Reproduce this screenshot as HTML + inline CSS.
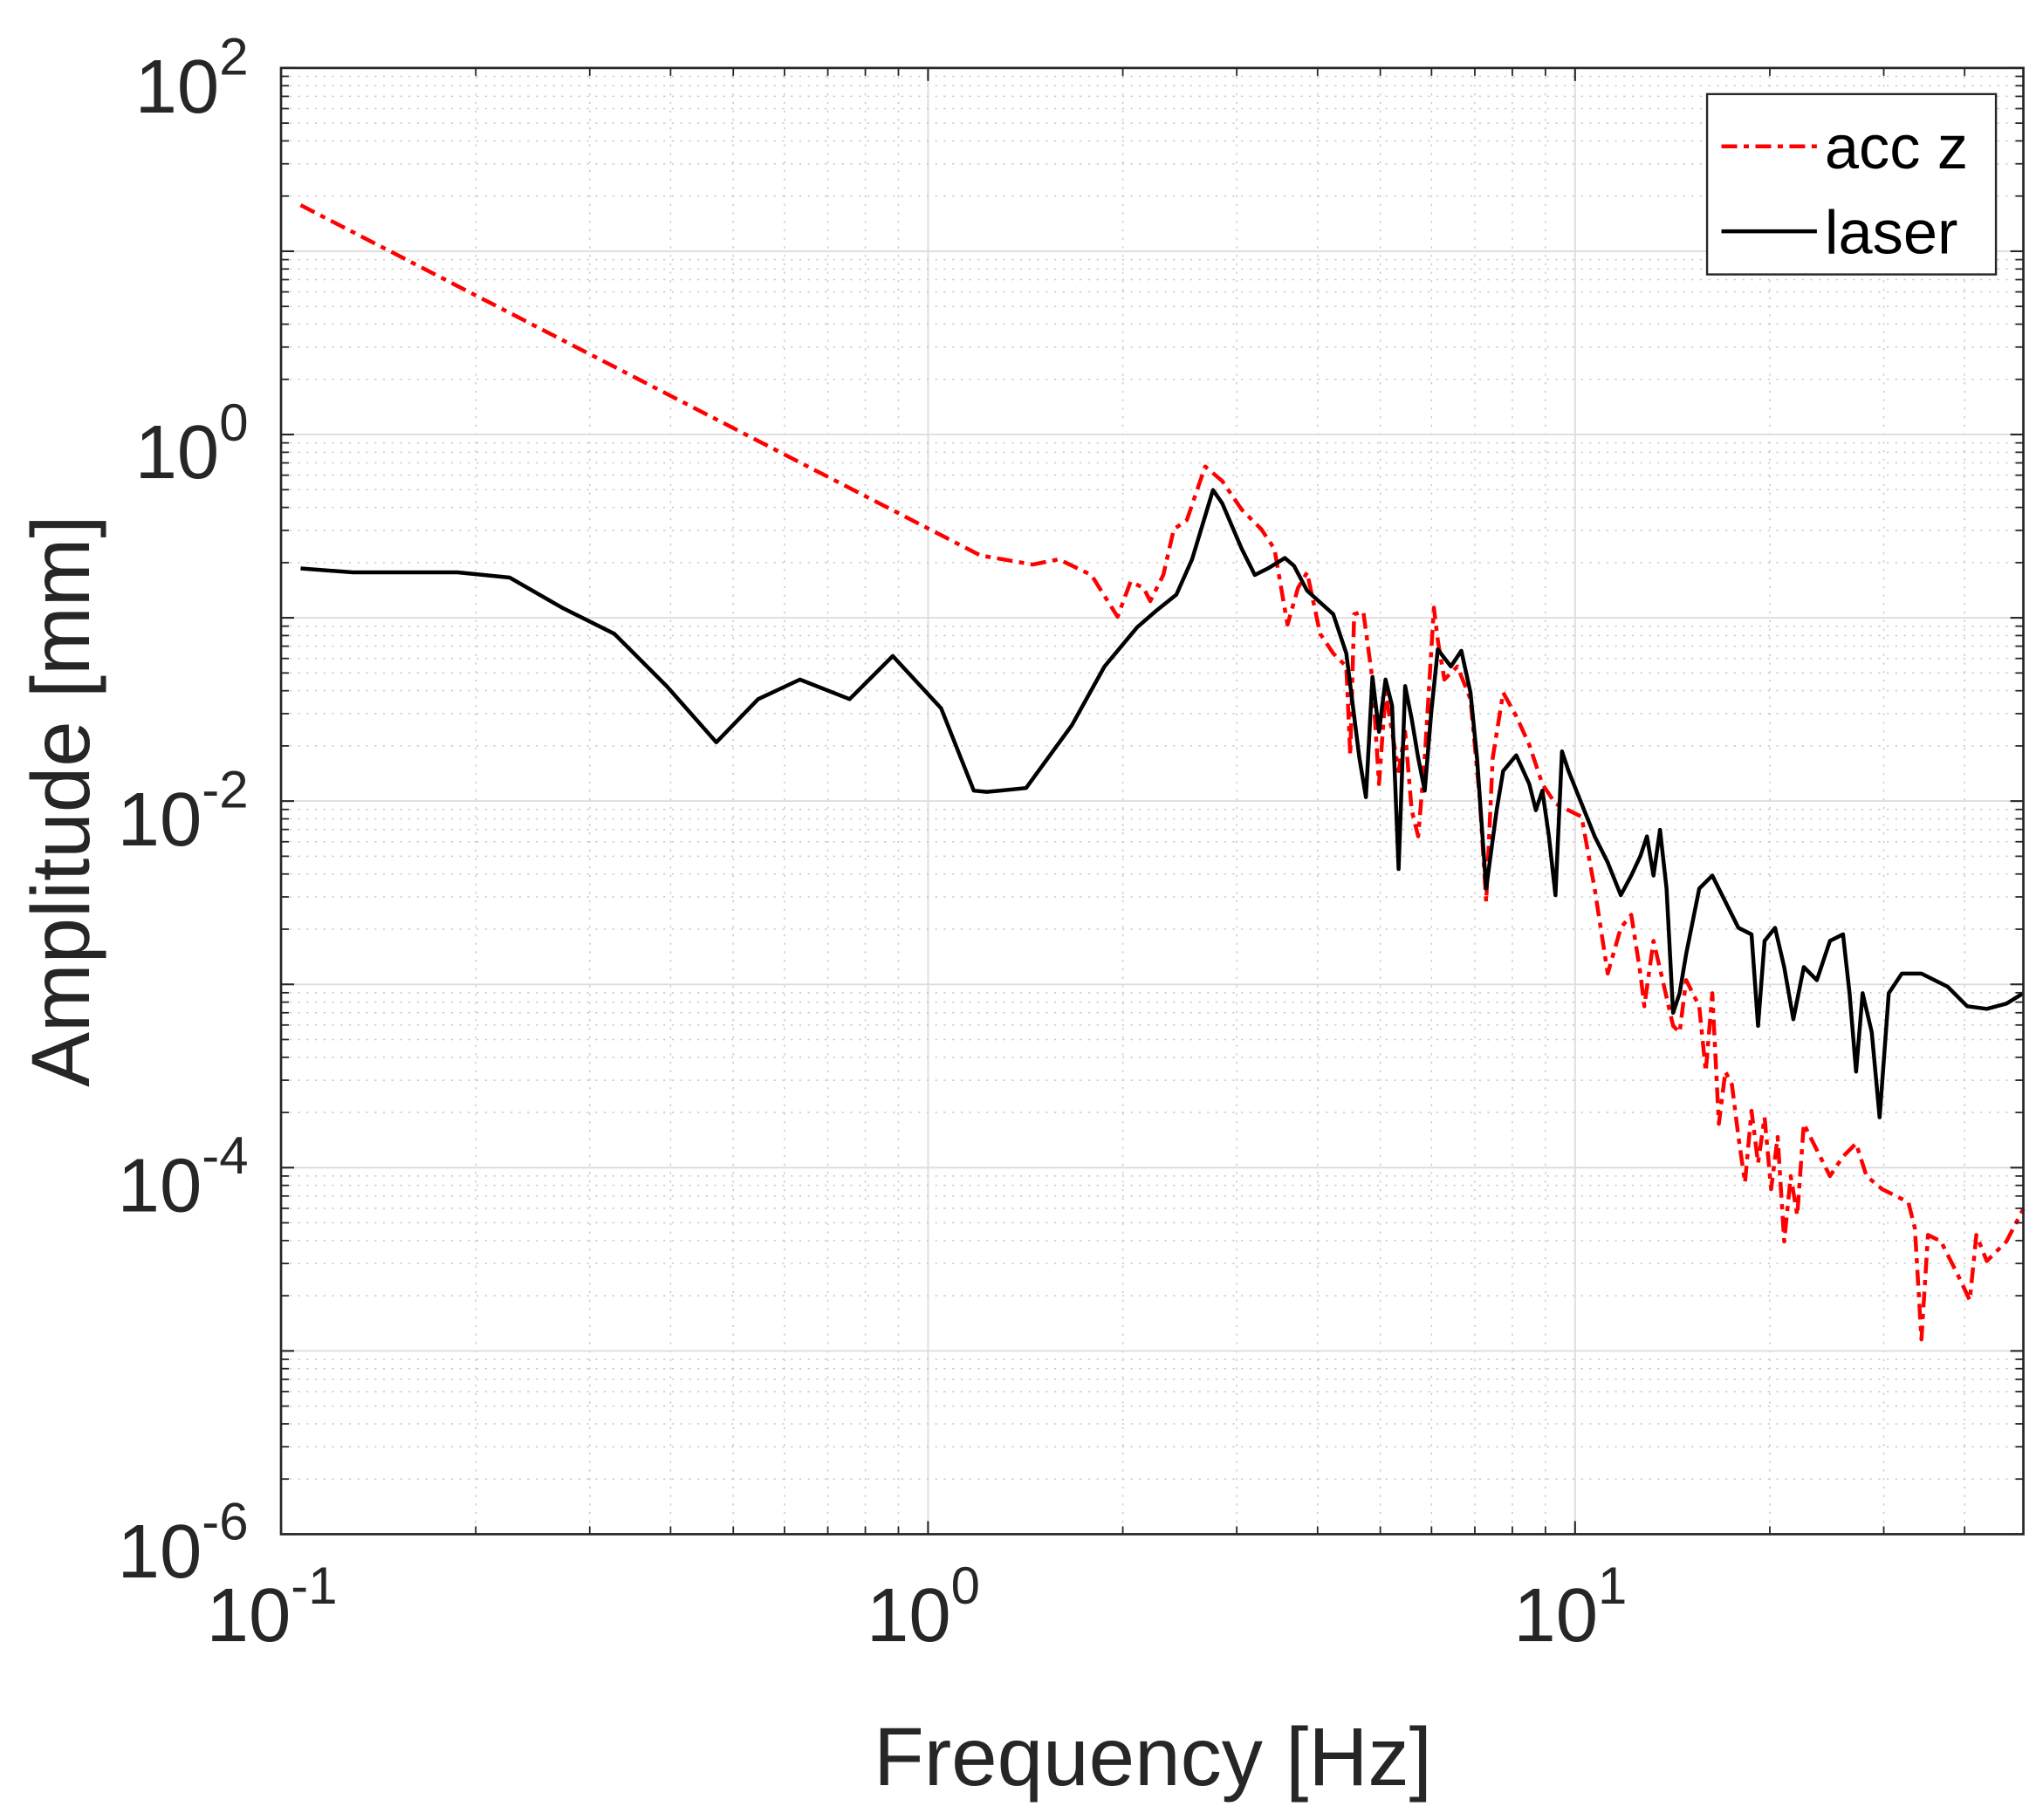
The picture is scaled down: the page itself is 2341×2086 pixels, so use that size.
<!DOCTYPE html>
<html><head><meta charset="utf-8"><style>
html,body{margin:0;padding:0;background:#fff;}
svg{display:block;}
text{font-family:"Liberation Sans",Arial,sans-serif;fill:#262626;}
</style></head><body>
<svg id="s" width="2341" height="2086" viewBox="0 0 1563 1392.7" preserveAspectRatio="none" xmlns="http://www.w3.org/2000/svg">
<rect x="0" y="0" width="1563" height="1393" fill="#fff"/>
<g id="grid"></g>
<polyline fill="none" stroke="#ff0000" stroke-width="3" stroke-dasharray="12,5,4,5" stroke-linejoin="round" points="230,157 750,425 790,432 810,428 835,440 855,472 865,445 875,450 880,460 890,440 898,405 908,398 922,357 935,368 950,390 965,405 975,420 985,478 993,450 1000,438 1010,485 1020,500 1030,510 1033,578 1036,470 1043,468 1050,520 1055,600 1060,530 1065,560 1070,590 1075,560 1080,620 1085,640 1090,580 1097,465 1100,490 1105,520 1115,510 1125,535 1132,610 1137,690 1142,580 1150,530 1160,548 1170,570 1180,600 1190,615 1200,620 1210,625 1220,680 1230,745 1240,710 1248,700 1255,745 1258,770 1265,720 1272,750 1280,785 1285,790 1290,750 1300,770 1305,820 1310,760 1315,860 1320,820 1325,830 1330,870 1335,905 1340,850 1345,890 1350,855 1355,910 1360,870 1365,950 1370,900 1375,930 1380,860 1390,880 1400,900 1410,885 1420,875 1428,900 1440,910 1460,920 1465,940 1470,1025 1475,945 1485,950 1500,980 1507,995 1512,945 1520,965 1535,950 1548,925"/>
<polyline fill="none" stroke="#000" stroke-width="3" stroke-linejoin="round" points="230,435 270,438 350,438 390,442 430,465 470,485 510,525 548,568 580,535 612,520 650,535 683,502 720,542 745,605 755,606 785,603 820,555 845,510 870,480 885,467 900,455 912,428 928,375 935,385 950,420 960,440 970,435 983,427 990,433 1000,452 1020,470 1030,500 1040,580 1045,610 1050,518 1055,560 1060,520 1065,540 1070,665 1075,525 1080,550 1085,580 1090,605 1095,545 1100,497 1110,510 1118,498 1125,530 1130,580 1137,680 1145,620 1150,590 1160,578 1170,600 1175,620 1180,605 1185,640 1190,685 1195,575 1200,590 1210,615 1220,640 1230,660 1240,685 1248,670 1255,655 1260,640 1265,670 1270,635 1275,680 1280,775 1285,760 1290,730 1300,680 1310,670 1320,690 1330,710 1340,715 1345,785 1350,720 1358,710 1365,740 1372,780 1380,740 1390,750 1400,720 1410,715 1415,760 1420,820 1425,760 1432,790 1438,855 1445,760 1455,745 1470,745 1490,755 1505,770 1520,772 1535,768 1548,760"/>
<g id="axes"></g>
<rect x="1306" y="72" width="221" height="138" fill="#fff" stroke="#262626" stroke-width="1.6"/>
<line x1="1317" y1="112" x2="1390" y2="112" stroke="#ff0000" stroke-width="3" stroke-dasharray="12,5,4,5"/>
<line x1="1317" y1="177" x2="1390" y2="177" stroke="#000" stroke-width="3"/>
<text x="1396" y="129" font-size="47" style="fill:#000">acc z</text>
<text x="1396" y="194" font-size="47" style="fill:#000">laser</text>
<g font-size="58" text-anchor="end">
<text x="190" y="86">10<tspan dy="-29" font-size="40">2</tspan></text>
<text x="190" y="366">10<tspan dy="-29" font-size="40">0</tspan></text>
<text x="190" y="647">10<tspan dy="-29" font-size="40">-2</tspan></text>
<text x="190" y="927">10<tspan dy="-29" font-size="40">-4</tspan></text>
<text x="190" y="1207">10<tspan dy="-29" font-size="40">-6</tspan></text>
</g>
<g font-size="58">
<text x="158" y="1256">10<tspan dy="-29" font-size="40">-1</tspan></text>
<text x="663" y="1256">10<tspan dy="-29" font-size="40">0</tspan></text>
<text x="1158" y="1256">10<tspan dy="-29" font-size="40">1</tspan></text>
</g>
<text x="882" y="1366" font-size="63" text-anchor="middle">Frequency [Hz]</text>
<text transform="translate(68,613) rotate(-90)" font-size="63" text-anchor="middle">Amplitude [mm]</text>
</svg>
<script>
(function(){
var L=215,R=1548,T=52,B=1174,DX=495,DY=(B-T)/8;
var g=document.getElementById('grid'),a=document.getElementById('axes');
var ns='http://www.w3.org/2000/svg';
function ln(p,x1,y1,x2,y2,st,w,da){var e=document.createElementNS(ns,'line');e.setAttribute('x1',x1);e.setAttribute('y1',y1);e.setAttribute('x2',x2);e.setAttribute('y2',y2);e.setAttribute('stroke',st);e.setAttribute('stroke-width',w);if(da)e.setAttribute('stroke-dasharray',da);p.appendChild(e);}
function xp(v){return L+(Math.log10(v)+1)*DX;}
function yp(v){return B-(Math.log10(v)+6)*DY;}
for(var d=-1;d<=1;d++){for(var m=1;m<=9;m++){var v=m*Math.pow(10,d);var x=xp(v);if(x>R-0.5)break;
 if(m==1){ln(g,x,T,x,B,'#dcdcdc',1.2);ln(a,x,B,x,B-10,'#262626',1.4);ln(a,x,T,x,T+10,'#262626',1.4);}
 else{ln(g,x,T,x,B,'#c8c8c8',1,'1.5,5');ln(a,x,B,x,B-6,'#262626',1.2);ln(a,x,T,x,T+6,'#262626',1.2);}}}
for(var d=-6;d<=2;d++){for(var m=1;m<=9;m++){var v=m*Math.pow(10,d);var y=yp(v);if(y<T-0.5)break;
 if(m==1){ln(g,L,y,R,y,'#dcdcdc',1.2);ln(a,L,y,L+10,y,'#262626',1.4);ln(a,R,y,R-10,y,'#262626',1.4);}
 else{ln(g,L,y,R,y,'#c8c8c8',1,'1.5,5');ln(a,L,y,L+6,y,'#262626',1.2);ln(a,R,y,R-6,y,'#262626',1.2);}}}
var r=document.createElementNS(ns,'rect');r.setAttribute('x',L);r.setAttribute('y',T);r.setAttribute('width',R-L);r.setAttribute('height',B-T);r.setAttribute('fill','none');r.setAttribute('stroke','#262626');r.setAttribute('stroke-width','1.8');a.appendChild(r);
})();
</script>
</body></html>
